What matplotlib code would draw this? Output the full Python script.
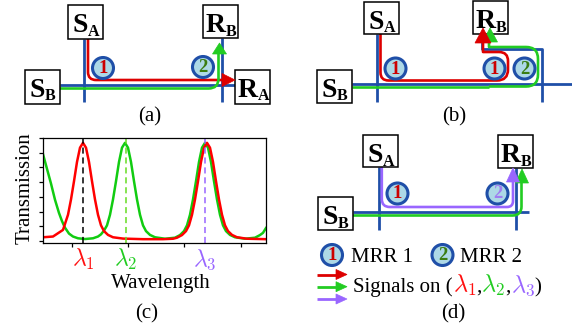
import numpy as np
import matplotlib
matplotlib.use('Agg')
import matplotlib.pyplot as plt
from matplotlib.path import Path
from matplotlib.patches import PathPatch, Polygon, Circle, Rectangle

plt.rcParams['font.family'] = ['Liberation Serif', 'DejaVu Serif']
plt.rcParams['mathtext.fontset'] = 'cm'

# transmission spectra, x in axis pixels, y in tick units
red_x = [0, 10, 20, 25, 28, 31, 34, 37, 40, 43, 46, 49, 52, 55, 58, 61, 65, 70, 80, 100,
         120, 130, 134, 139, 143, 146, 149, 152, 155, 158, 161, 164, 167, 170, 173, 176,
         179, 182, 185, 189, 194, 204, 223]
red_t = [0.25, 0.3, 0.75, 1.78, 2.82, 4.06, 5.37, 6.34, 6.67, 6.34, 5.37, 4.06, 2.82, 1.78,
         1.06, 0.67, 0.41, 0.25, 0.16, 0.12, 0.12, 0.15, 0.22, 0.4, 0.67, 1.06, 1.78, 2.82,
         4.06, 5.37, 6.34, 6.67, 6.34, 5.37, 4.06, 2.82, 1.78, 1.06, 0.67, 0.41, 0.25, 0.15, 0.12]
green_x = [0, 4, 8, 12, 16, 19, 22, 26, 30, 35, 42, 50, 55, 58, 61, 64, 67, 70, 73, 76, 79,
           82, 85, 88, 91, 94, 97, 100, 103, 107, 112, 122, 132, 137, 141, 144, 147, 150,
           153, 156, 159, 162, 165, 168, 171, 174, 177, 180, 183, 187, 192, 202, 212, 217,
           220, 223]
green_t = [5.9, 4.9, 3.9, 2.8, 1.9, 1.35, 0.9, 0.5, 0.3, 0.18, 0.13, 0.18, 0.3, 0.45, 0.7,
           1.06, 1.78, 2.82, 4.06, 5.37, 6.34, 6.67, 6.34, 5.37, 4.06, 2.82, 1.78, 1.06, 0.67,
           0.41, 0.25, 0.15, 0.22, 0.4, 0.67, 1.06, 1.78, 2.82, 4.06, 5.37, 6.34, 6.67, 6.34,
           5.37, 4.06, 2.82, 1.78, 1.06, 0.67, 0.41, 0.25, 0.15, 0.22, 0.4, 0.55, 0.88]
lam_pos = [40, 83, 162]
lam_labels = [r'$\lambda_1$', r'$\lambda_2$', r'$\lambda_3$']
lam_colors = ['#ff1010', '#22cc22', '#9966ff']
dash_colors = ['black', '#66dd22', '#9966ff']
x_ticks = [29, 85, 141, 198]
y_ticks = [0, 1, 2, 3, 4, 5, 6, 7]

BLUE = '#1f4fa8'
RED = '#dd0000'
GREEN = '#22cc22'
PURPLE = '#9966ff'
RING_FILL = '#add8e6'
W = 572
H = 327

fig = plt.figure(figsize=(W / 100, H / 100), dpi=100)
ax = fig.add_axes([0, 0, 1, 1])
ax.set_xlim(0, W)
ax.set_ylim(H, 0)
ax.axis('off')


def rpath(pts, radii, color, lw=1.9, z=2):
    verts = [pts[0]]
    codes = [Path.MOVETO]
    for i in range(1, len(pts) - 1):
        p = np.array(pts[i], float)
        a = np.array(pts[i - 1], float)
        b = np.array(pts[i + 1], float)
        r = radii[i - 1]
        d1 = (p - a) / np.linalg.norm(p - a)
        d2 = (b - p) / np.linalg.norm(b - p)
        if r > 0:
            verts += [tuple(p - d1 * r), tuple(p), tuple(p + d2 * r)]
            codes += [Path.LINETO, Path.CURVE3, Path.CURVE3]
        else:
            verts.append(tuple(p))
            codes.append(Path.LINETO)
    verts.append(pts[-1])
    codes.append(Path.LINETO)
    ax.add_patch(PathPatch(Path(verts, codes), fill=False, ec=color, lw=lw,
                           capstyle='butt', joinstyle='round', zorder=z))


def head(tip, d, color, L=13, hw=6.5):
    tip = np.array(tip, float)
    d = np.array(d, float)
    n = np.array([-d[1], d[0]])
    base = tip - d * L
    ax.add_patch(Polygon([tip, base + n * hw, base - n * hw], closed=True,
                         fc=color, ec=color, lw=0.5, zorder=5))


def box(x0, y0, main, sub, h=34):
    ax.add_patch(Rectangle((x0, y0), 35, h, fc='white', ec='black', lw=1.1, zorder=4))
    off = 2.5 if main == 'S' else 5.5
    cx = x0 + 17.5 + off
    ax.text(cx, y0 + 27, main, ha='right', va='baseline', fontsize=20,
            fontweight='bold', zorder=6)
    ax.text(cx, y0 + 30.5, sub, ha='left', va='baseline', fontsize=11.5,
            fontweight='bold', zorder=6)


def ring(cx, cy, label, color):
    ax.add_patch(Circle((cx, cy), 10.5, fc=RING_FILL, ec=BLUE, lw=2.2, zorder=3))
    ax.text(cx, cy + 0.5, label, ha='center', va='center', fontsize=13.5,
            fontweight='bold', color=color, zorder=6)


def blue(pts):
    rpath(pts, [0] * (len(pts) - 2), BLUE, lw=2.0, z=1)


# ---- panel (a)
box(68, 5, 'S', 'A')
box(203, 5, 'R', 'B', 33)
box(25, 70, 'S', 'B')
box(235, 70, 'R', 'A')
blue([(84.3, 39), (84.3, 102)])
blue([(60, 84.5), (235, 84.5)])
blue([(221.5, 38), (221.5, 102)])
rpath([(88, 39), (88, 80), (223, 80)], [8], RED)
head((235, 80), (1, 0), RED, L=13, hw=6.5)
rpath([(60, 88.5), (218.5, 88.5), (218.5, 53)], [10], GREEN)
head((219.5, 43), (0, -1), GREEN, L=11, hw=7)
ring(103, 68, '1', '#cc0000')
ring(203, 67, '2', '#3a7d12')
ax.text(149.5, 121, '(a)', ha='center', va='baseline', fontsize=15)

# ---- panel (b)
box(364, 2, 'S', 'A', 32)
box(473, 1, 'R', 'B', 33)
box(317, 70, 'S', 'B', 33)
blue([(377, 34), (377, 102)])
blue([(352, 84), (572, 84)])
blue([(482, 35), (482, 49), (541.5, 49), (541.5, 102)])
rpath([(489, 86.5), (538, 86.5), (538, 47), (489, 47), (489, 40)], [12, 12, 0], GREEN)
rpath([(352, 86.5), (489, 86.5)], [], GREEN)
head((490, 28), (0, -1), GREEN, L=14, hw=7.5)
rpath([(380.5, 34), (380.5, 80.5), (508, 80.5), (508, 52), (483, 52), (483, 42)],
      [8, 11, 9, 0], RED)
head((483, 28), (0, -1), RED, L=15, hw=8)
ring(395.5, 68.5, '1', '#cc0000')
ring(494.5, 68.5, '1', '#cc0000')
ring(524.5, 68.5, '2', '#3a7d12')
ax.text(454, 121, '(b)', ha='center', va='baseline', fontsize=15)

# ---- panel (d)
box(363, 135, 'S', 'A', 32)
box(498, 135, 'R', 'B', 33)
box(318, 197, 'S', 'B', 33)
blue([(379, 167), (379, 230)])
blue([(353, 211.5), (529, 211.5)])
blue([(516, 168), (516, 230)])
rpath([(353, 215.5), (521.5, 215.5), (521.5, 182)], [9], GREEN)
head((522, 169), (0, -1), GREEN, L=14, hw=6.5)
rpath([(381.8, 167), (381.8, 207), (513, 207), (513, 181)], [8, 6], PURPLE)
head((513, 168), (0, -1), PURPLE, L=14, hw=6.5)
ring(397.5, 193.5, '1', '#cc0000')
ring(497.5, 193.5, '2', '#a07cf0')

# legend of panel (d)
ring(332, 255, '1', '#cc0000')
ring(442.5, 255, '2', '#3a7d12')
ax.text(351, 262, 'MRR 1', ha='left', va='baseline', fontsize=15)
ax.text(460, 262, 'MRR 2', ha='left', va='baseline', fontsize=15)
for yy, cc in zip([274.5, 286.7, 299], [RED, GREEN, PURPLE]):
    rpath([(317, yy), (337, yy)], [], cc, lw=2.0)
    head((347, yy), (1, 0), cc, L=11, hw=5)

renderer = fig.canvas.get_renderer()
pieces = [('Signals on (', 'black', 15), (r'$\lambda_1$', lam_colors[0], 17.5),
          (',', 'black', 15), (r'$\lambda_2$', lam_colors[1], 17.5), (',', 'black', 15),
          (r'$\lambda_3$', lam_colors[2], 17.5), (')', 'black', 15)]
xx = 353
for s, c, fs in pieces:
    t = ax.text(xx, 292, s, ha='left', va='baseline', fontsize=fs, color=c)
    xx += t.get_window_extent(renderer).width
ax.text(453.5, 318, '(d)', ha='center', va='baseline', fontsize=15)

# ---- panel (c)
axc = fig.add_axes([43 / W, (H - 243) / H, 223 / W, 105 / H])
axc.plot(green_x, green_t, color='#11cc11', lw=1.8)
axc.plot(red_x, red_t, color='#ff0000', lw=1.8)
for xp, dc in zip(lam_pos, dash_colors):
    axc.axvline(xp, color=dc, lw=1.1, ls=(0, (4, 2.5)))
axc.set_xlim(0, 223)
axc.set_ylim(-0.14, 7.0)
axc.set_xticks(x_ticks)
axc.set_yticks(y_ticks)
axc.tick_params(labelleft=False, labelbottom=False, length=3, width=0.9)
for sp in axc.spines.values():
    sp.set_linewidth(0.9)
for xp, lab, c in zip(lam_pos, lam_labels, lam_colors):
    ax.text(43 + xp, 266, lab, ha='center', va='baseline', fontsize=17, color=c)
ax.text(161, 288, 'Wavelength', ha='center', va='baseline', fontsize=15)
ax.text(25, 188, 'Transmission', ha='center', va='center', rotation=90, fontsize=15)
ax.text(147, 318, '(c)', ha='center', va='baseline', fontsize=15)

fig.savefig('out.png', dpi=100)
